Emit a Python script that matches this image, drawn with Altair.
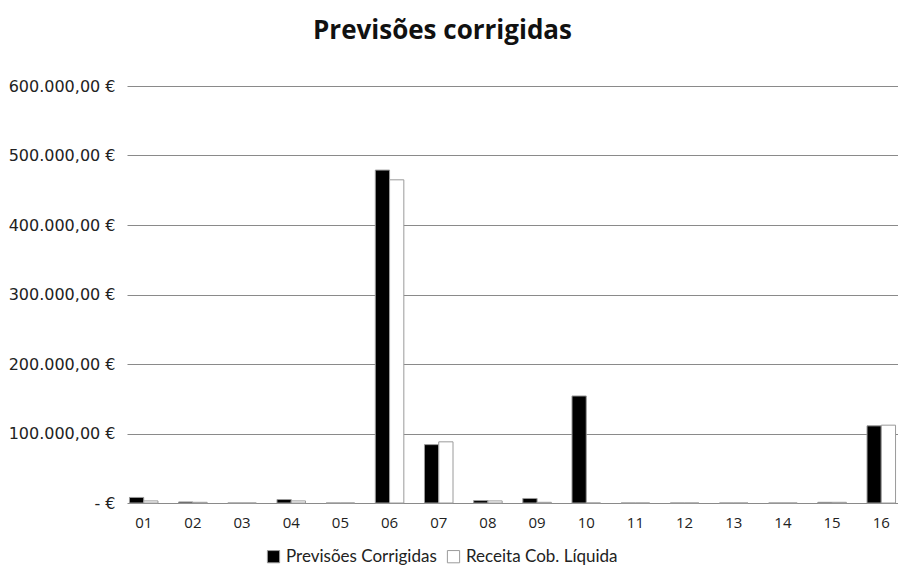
import altair as alt
import pandas as pd

categories = ["01","02","03","04","05","06","07","08","09","10","11","12","13","14","15","16"]
previsoes = [8000, 1500, 0, 5000, 0, 479000, 84000, 3500, 6500, 154000, 0, 0, 0, 0, 1000, 111000]
receita = [3000, 1000, 0, 3000, 0, 465000, 88000, 3000, 1000, 0, 0, 0, 0, 0, 1000, 112000]
series = ["Previsões Corrigidas", "Receita Cob. Líquida"]

rows = []
for c, p, r in zip(categories, previsoes, receita):
    rows.append({"cat": c, "serie": series[0], "valor": p})
    rows.append({"cat": c, "serie": series[1], "valor": r})
df = pd.DataFrame(rows)

chart = alt.Chart(df).mark_bar(stroke="#9a9a9a", strokeWidth=1).encode(
    x=alt.X("cat:N", sort=categories, title=None,
            scale=alt.Scale(paddingInner=0.42, paddingOuter=0.05),
            axis=alt.Axis(labelAngle=0, labelFontSize=15, labelColor="#222", labelFont="Open Sans",
                          ticks=False, domain=False, labelPadding=12)),
    xOffset=alt.XOffset("serie:N", sort=series),
    y=alt.Y("valor:Q", title=None,
            scale=alt.Scale(domain=[0, 600000]),
            axis=alt.Axis(values=[0, 100000, 200000, 300000, 400000, 500000, 600000],
                          labelExpr="datum.value == 0 ? '-    €' : format(datum.value/1000, 'd') + '.000,00 €'",
                          labelFontSize=16, labelColor="#222", labelFont="DejaVu Sans",
                          ticks=False, domain=False, labelPadding=12,
                          grid=True, gridColor="#8a8a8a", gridWidth=1)),
    color=alt.Color("serie:N", sort=series,
                    scale=alt.Scale(domain=series, range=["#000000", "#ffffff"]),
                    legend=alt.Legend(orient="none", legendX=138, legendY=462, direction="horizontal",
                                      title=None, symbolType="square",
                                      symbolSize=150, symbolStrokeColor="#9a9a9a", symbolStrokeWidth=1,
                                      labelFontSize=17, labelFont="Lato", labelColor="#222",
                                      columnPadding=8)),
).properties(
    width=771, height=417,
    padding={"left": 0, "top": 10, "right": 0, "bottom": 5},
    title=alt.TitleParams("Previsões corrigidas", fontSize=26, font="Open Sans", fontWeight="bold",
                          color="#111", offset=34, anchor="middle", dx=-70),
).configure(background="white").configure_view(stroke=None)

chart.save("out.html", embed_options={"renderer": "svg", "actions": False})
